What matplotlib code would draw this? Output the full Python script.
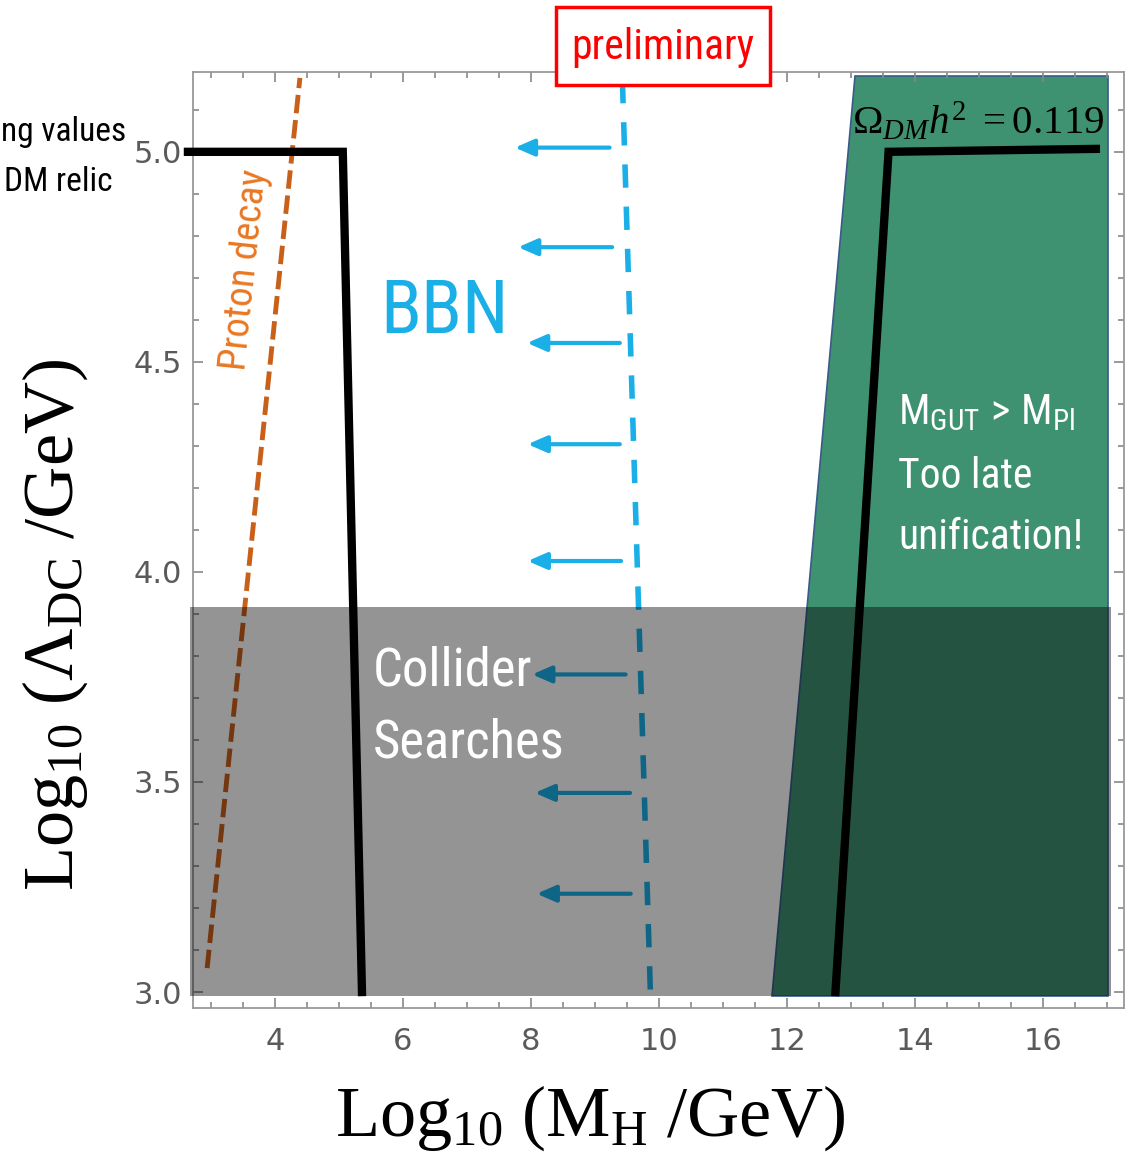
import matplotlib
matplotlib.use('Agg')
import matplotlib.pyplot as plt
from matplotlib import font_manager
from matplotlib.patches import Polygon, Rectangle

# ---- data ----
# relic-density contour, low-mass branch
relic_lo_x = [2.64, 5.06, 5.36]
relic_lo_y = [5.00, 5.00, 3.00]
# relic-density contour, high-mass branch
relic_hi_x = [12.76, 13.59, 16.83]
relic_hi_y = [3.00, 5.00, 5.007]
# proton decay bound
proton_x = [2.94, 4.39]
proton_y = [3.057, 5.176]
# BBN bound
bbn_x = [9.43, 9.87]
bbn_y = [5.171, 2.988]
# arrows pointing away from BBN line
arrow_y = [5.01, 4.773, 4.545, 4.304, 4.026, 3.756, 3.474, 3.234]
arrow_tail = [9.23, 9.27, 9.39, 9.39, 9.41, 9.48, 9.55, 9.56]
arrow_head = [7.75, 7.80, 7.94, 7.95, 7.95, 8.02, 8.06, 8.09]
# M_GUT > M_Pl region
gut_x = [13.06, 17.02, 17.02, 11.77]
gut_y = [5.181, 5.181, 2.99, 2.99]
# collider-excluded band
collider_x = [2.67, 17.06]
collider_y = [2.99, 3.917]

xticks = [4, 6, 8, 10, 12, 14, 16]
yticks = [3.0, 3.5, 4.0, 4.5, 5.0]

names = {f.name for f in font_manager.fontManager.ttflist}
narrow = 'DejaVu Sans'
for n in ['Liberation Sans Narrow', 'Roboto Condensed', 'Open Sans Condensed']:
    if n in names:
        narrow = n
        break

plt.rcParams['mathtext.fontset'] = 'custom'
plt.rcParams['mathtext.rm'] = 'Liberation Serif'
plt.rcParams['mathtext.it'] = 'Liberation Serif:italic'
plt.rcParams['mathtext.bf'] = 'Liberation Serif:bold'
plt.rcParams['mathtext.sf'] = narrow

W, H = 1125, 1158


def fp(x, y):
    # figure pixel (from top-left) -> figure fraction
    return x / W, 1 - y / H


fig = plt.figure(figsize=(W / 100, H / 100), dpi=100)
ax = fig.add_axes([193/W, 1-1008/H, 931/W, 936/H])
ax.set_xlim(2.719, 17.27)
ax.set_ylim(2.962, 5.190)

blue = '#1AAFE6'
orange = '#C8601A'

ax.add_patch(Polygon(list(zip(gut_x, gut_y)), closed=True, facecolor='#3F9271',
                     edgecolor='#3a5a8a', lw=1.2, zorder=1))

ax.plot(relic_lo_x, relic_lo_y, color='black', lw=6, solid_joinstyle='miter',
        zorder=3, clip_on=False)
ax.plot(relic_hi_x, relic_hi_y, color='black', lw=6, solid_joinstyle='miter', zorder=3)

ax.plot(proton_x, proton_y, color=orange, lw=3.5, dashes=(3.8, 1.4), zorder=2)
ax.plot(bbn_x, bbn_y, color=blue, lw=4, dashes=(4.2, 3.4), zorder=2)

for yy, t, h in zip(arrow_y, arrow_tail, arrow_head):
    ax.annotate('', xy=(h, yy), xytext=(t, yy),
                arrowprops=dict(arrowstyle='-|>,head_length=1.15,head_width=0.5',
                                color=blue, lw=3, shrinkA=0, shrinkB=0), zorder=2)

ax.add_patch(Rectangle((collider_x[0], collider_y[0]), collider_x[1]-collider_x[0],
                       collider_y[1]-collider_y[0], facecolor='black', alpha=0.42,
                       lw=0, zorder=4, clip_on=False))

# labels inside the plot
fig.text(*fp(445, 312), 'BBN', color=blue, fontsize=54, family=narrow,
         ha='center', va='center', zorder=5)
fig.text(*fp(245, 270), 'Proton decay', color='#E87722', fontsize=28, family=narrow,
         rotation=84, ha='center', va='center', zorder=5)
fig.text(*fp(373, 707), 'Collider\nSearches', color='white', fontsize=38, family=narrow,
         ha='left', va='center', linespacing=1.5, zorder=5)
fig.text(*fp(898, 412), r'$\mathsf{M_{GUT}}\,\mathsf{>}\,\mathsf{M_{Pl}}$', color='white',
         fontsize=30, ha='left', va='center', zorder=5)
fig.text(*fp(898, 507), 'Too late\nunification!', color='white', fontsize=30,
         family=narrow, ha='left', va='center', linespacing=1.65, zorder=5)
fig.text(*fp(978, 133), r'$\Omega_{DM}h^2\ = 0.119$', color='black', fontsize=29.5,
         ha='center', va='baseline', zorder=5)

ax.set_xticks(xticks)
ax.set_yticks(yticks)
ax.set_yticklabels(['%.1f' % v for v in yticks])
ax.xaxis.set_minor_locator(matplotlib.ticker.MultipleLocator(0.5))
ax.yaxis.set_minor_locator(matplotlib.ticker.MultipleLocator(0.1))
ax.tick_params(which='both', direction='in', top=True, right=True, color='#888888',
               width=1.2, labelsize=22, labelcolor='#5a5a5a')
ax.tick_params(which='major', length=7)
ax.tick_params(which='minor', length=4)
ax.tick_params(axis='x', pad=14)
ax.tick_params(axis='y', pad=8)
for s in ax.spines.values():
    s.set_color('#999999')
    s.set_linewidth(1.3)

fig.text(*fp(590, 1118), r'$\mathrm{Log}_{10}\ (\mathrm{M}_{\mathrm{H}}\ /\mathrm{GeV})$',
         fontsize=52, ha='center', va='center')
fig.text(*fp(55, 625), r'$\mathrm{Log}_{10}\ (\Lambda_{\mathrm{DC}}\ /\mathrm{GeV})$',
         fontsize=52, ha='center', va='center', rotation=90)

# cut-off note at the left edge
fig.text(*fp(126, 132), 'ng values', fontsize=24, family=narrow, ha='right', va='center')
fig.text(*fp(113, 182), 'DM relic', fontsize=24, family=narrow, ha='right', va='center')

# "preliminary" stamp
fig.patches.append(Rectangle(fp(556, 85), 214/W, 78/H, transform=fig.transFigure,
                             facecolor='white', edgecolor='red', lw=2.5, zorder=6))
fig.text(*fp(663, 48), 'preliminary', color='red', fontsize=30, family=narrow,
         ha='center', va='center', zorder=7)

fig.savefig('out.png', dpi=100)
